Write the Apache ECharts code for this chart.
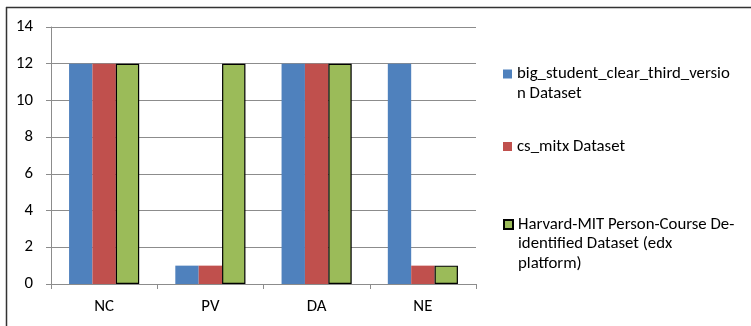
<!DOCTYPE html>
<html>
<head>
<meta charset="utf-8">
<script src="https://cdn.jsdelivr.net/npm/echarts@6/dist/echarts.min.js"></script>
<style>
  html, body { margin: 0; padding: 0; background: #fff; }
  #chart { width: 751px; height: 326px; }
</style>
</head>
<body>
<div id="chart"></div>
<script>
// Categories along the x axis
const categories = ['NC', 'PV', 'DA', 'NE'];

// Series names and their wrapped legend text
const seriesNames = [
  'big_student_clear_third_version Dataset',
  'cs_mitx Dataset',
  'Harvard-MIT Person-Course De-identified Dataset (edx platform)'
];
const legendText = [
  'big_student_clear_third_versio\nn Dataset',
  'cs_mitx Dataset',
  'Harvard-MIT Person-Course De-\nidentified Dataset (edx\nplatform)'
];

// Values per series
const bigStudent = [12, 1, 12, 12];
const csMitx = [12, 1, 12, 1];
const harvardMit = [12, 12, 12, 1];

// Y axis scale
const yMin = 0, yMax = 14, yStep = 2;

const colors = ['#4F81BD', '#C0504D', '#9BBB59'];
const fontFamily = 'Calibri, Carlito, "Noto Sans", "Open Sans", sans-serif';
const gridColor = '#8c8c8c';
const fontSize = 16.8;

const chart = echarts.init(document.getElementById('chart'), null, { renderer: 'canvas' });

// One legend per series so each icon sits beside the first line of its text
function legendFor(i, top, blankLines) {
  return {
    orient: 'vertical',
    left: 503,
    top: top,
    padding: 0,
    icon: 'rect',
    itemWidth: 9,
    itemHeight: 9,
    itemGap: 0,
    selectedMode: false,
    data: [seriesNames[i]],
    formatter: () => '\n'.repeat(blankLines) + legendText[i],
    textStyle: { fontFamily, fontSize, lineHeight: 19.5, color: '#000' }
  };
}

const option = {
  animation: false,
  backgroundColor: '#fff',
  color: colors,
  grid: { left: 51, right: 275, top: 27, bottom: 42, containLabel: false },
  legend: [
    legendFor(0, 44.75, 1),
    legendFor(1, 136.75, 0),
    legendFor(2, 175.75, 2)
  ],
  xAxis: {
    type: 'category',
    data: categories,
    boundaryGap: true,
    axisLine: { show: true, lineStyle: { color: gridColor, width: 1 } },
    axisTick: { show: true, interval: 0, length: 5, lineStyle: { color: gridColor } },
    axisLabel: { margin: 14, color: '#000', fontFamily, fontSize },
    splitLine: { show: false }
  },
  yAxis: {
    type: 'value',
    min: yMin,
    max: yMax,
    interval: yStep,
    axisLine: { show: true, lineStyle: { color: gridColor, width: 1 } },
    axisTick: { show: true, length: 5, lineStyle: { color: gridColor } },
    axisLabel: { margin: 18, color: '#000', fontFamily, fontSize },
    splitLine: { show: true, lineStyle: { color: gridColor, width: 1 } }
  },
  series: [
    {
      name: seriesNames[0], type: 'bar', data: bigStudent,
      barGap: '0%', barCategoryGap: '34%',
      itemStyle: { color: colors[0] }
    },
    {
      name: seriesNames[1], type: 'bar', data: csMitx,
      barGap: '0%', barCategoryGap: '34%',
      itemStyle: { color: colors[1] }
    },
    {
      name: seriesNames[2], type: 'bar', data: harvardMit,
      barGap: '0%', barCategoryGap: '34%',
      itemStyle: { color: colors[2], borderColor: '#000', borderWidth: 1.2 }
    }
  ],
  graphic: [
    // frame lines along the top and left edges
    { type: 'line', shape: { x1: 6, y1: 7.5, x2: 751, y2: 7.5 }, style: { stroke: '#333', lineWidth: 1.5 }, silent: true },
    { type: 'line', shape: { x1: 6.5, y1: 7, x2: 6.5, y2: 326 }, style: { stroke: '#333', lineWidth: 1.5 }, silent: true }
  ]
};

chart.setOption(option);
</script>
</body>
</html>
